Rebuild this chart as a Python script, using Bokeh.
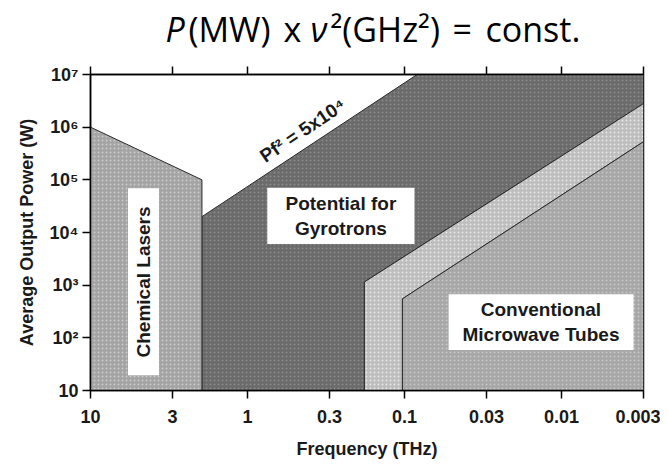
import math
from bokeh.plotting import figure
from bokeh.models import (Range1d, FixedTicker, LogAxis, Label, BoxAnnotation,
                          CustomLabelingPolicy)
from bokeh.layouts import column
from bokeh.core.properties import value
from bokeh.embed import file_html
from bokeh.resources import INLINE

# ---- data (frequency in THz, power in W) ----
x_ticks = [10, 3, 1, 0.3, 0.1, 0.03, 0.01, 0.003]
x_tick_labels = ["10", "3", "1", "0.3", "0.1", "0.03", "0.01", "0.003"]
y_ticks = [10, 100, 1000, 10000, 100000, 1000000, 10000000]
y_tick_labels = ["10", "10²", "10³", "10⁴", "10⁵", "10⁶", "10⁷"]

chem_f = [10, 1.95, 1.95, 10]
chem_p = [1e6, 1e5, 10, 10]

gyro_f = [1.95, 1.95, 0.083, 0.003, 0.003, 0.18, 0.18]
gyro_p = [10, 2e4, 1e7, 1e7, 2.8e6, 1.15e3, 10]

band_f = [0.18, 0.18, 0.003, 0.003, 0.103, 0.103]
band_p = [10, 1.15e3, 2.8e6, 5.3e5, 550, 10]

conv_f = [0.103, 0.103, 0.003, 0.003]
conv_p = [10, 550, 5.3e5, 10]

title_parts = ["P", "(MW)", "x", "ν", "²(GHz²)", "=", "const."]
title_italic = [True, False, False, True, False, False, False]

FONT = "Liberation Sans"

# ---------------- title strip (frame aligned with the chart's frame) ----------------
t = figure(width=660, height=62, x_range=Range1d(90, 643), y_range=Range1d(0, 62),
           output_backend="svg", toolbar_location=None,
           x_axis_location=None, y_axis_location=None,
           min_border_left=0, min_border_right=0, min_border_top=0, min_border_bottom=0)
t.grid.visible = False
t.outline_line_color = None
t.background_fill_color = "white"
t.border_fill_color = "white"
starts = [165, 188, 283, 310, 330, 452, 485]
for s, txt, it in zip(starts, title_parts, title_italic):
    t.text(x=[s], y=[34], text=[txt], text_font=value("Open Sans"), text_font_size="34px",
           text_font_style="italic" if it else "normal", text_color="black",
           text_align="left", text_baseline="alphabetic")

# ---------------- main chart ----------------
p = figure(width=660, height=404, x_axis_type="log", y_axis_type="log",
           x_range=Range1d(10, 0.003), y_range=Range1d(10, 1e7),
           output_backend="svg", toolbar_location=None,
           min_border_left=90, min_border_right=17,
           min_border_top=10, min_border_bottom=76)
p.grid.visible = False
p.outline_line_color = "black"
p.outline_line_width = 1.5
p.background_fill_color = "white"
p.border_fill_color = "white"

# regions
p.patch(gyro_f, gyro_p, fill_color="#6a6a6a", line_color="#2a2a2a", line_width=1,
        hatch_pattern="dot", hatch_color="#8a8a8a", hatch_scale=4, hatch_weight=1)
p.patch(band_f, band_p, fill_color="#bdbdbd", line_color="#2a2a2a", line_width=1,
        hatch_pattern="dot", hatch_color="#e6e6e6", hatch_scale=4, hatch_weight=1)
p.patch(conv_f, conv_p, fill_color="#a6a6a6", line_color="#2a2a2a", line_width=1,
        hatch_pattern="dot", hatch_color="#c6c6c6", hatch_scale=4, hatch_weight=1)
p.patch(chem_f, chem_p, fill_color="#a4a4a4", line_color="#2a2a2a", line_width=1,
        hatch_pattern="dot", hatch_color="#c8c8c8", hatch_scale=4, hatch_weight=1)

# white label boxes
for l, r, b, tp in [(5.77, 3.66, 19.4, 6.9e4), (0.748, 0.0863, 6.05e3, 7.1e4),
                    (0.0523, 0.00347, 58.7, 670)]:
    p.add_layout(BoxAnnotation(left=l, right=r, bottom=b, top=tp,
                               fill_color="white", fill_alpha=1, line_color=None))

lab_kw = dict(text_font=FONT, text_font_style="bold", text_font_size="19px",
              text_color="#1a1a1a", text_align="center", text_baseline="middle",
              text_line_height=1.2)
p.add_layout(Label(x=4.59, y=1.15e3, text="Chemical Lasers", angle=math.pi / 2, **lab_kw))
p.add_layout(Label(x=0.254, y=2.08e4, text="Potential for\nGyrotrons", **lab_kw))
p.add_layout(Label(x=0.0135, y=198, text="Conventional\nMicrowave Tubes", **lab_kw))
p.add_layout(Label(x=0.444, y=8.7e5, text="Pf² = 5x10⁴", angle=math.radians(34),
                   text_font=FONT, text_font_style="bold", text_font_size="19px",
                   text_color="#1a1a1a", text_align="center", text_baseline="middle"))

# axes
xa = p.xaxis[0]
xa.ticker = FixedTicker(ticks=x_ticks)
xa.major_label_overrides = dict(zip(x_ticks, x_tick_labels))
ya = p.yaxis[0]
ya.ticker = FixedTicker(ticks=y_ticks)
ya.major_label_overrides = dict(zip(y_ticks, y_tick_labels))
for ax in (xa, ya):
    ax.major_label_text_font = FONT
    ax.major_label_text_font_style = "bold"
    ax.major_label_text_font_size = "18px"
    ax.major_label_text_color = "#1a1a1a"
    ax.axis_label_text_font = FONT
    ax.axis_label_text_font_style = "bold"
    ax.axis_label_text_font_size = "18px"
    ax.axis_label_text_color = "#1a1a1a"
    ax.major_tick_in = 0
    ax.major_tick_out = 8
    ax.major_tick_line_width = 1.5
    ax.axis_line_width = 1.5
    ax.minor_tick_line_color = None
xa.axis_label = "Frequency (THz)"
ya.axis_label = "Average Output Power (W)"
xa.major_label_standoff = 11
xa.axis_label_standoff = 13
ya.major_label_standoff = 4
ya.axis_label_standoff = 10

top = LogAxis(ticker=FixedTicker(ticks=x_ticks),
              major_label_policy=CustomLabelingPolicy(code="return new Set()"),
              major_label_text_font_size="1px", major_label_standoff=0,
              major_tick_in=0, major_tick_out=8, major_tick_line_width=1.5,
              axis_line_width=1.5, minor_tick_line_color=None)
p.add_layout(top, "above")

layout = column(t, p, spacing=0)
open("out.html", "w").write(file_html(layout, INLINE))
